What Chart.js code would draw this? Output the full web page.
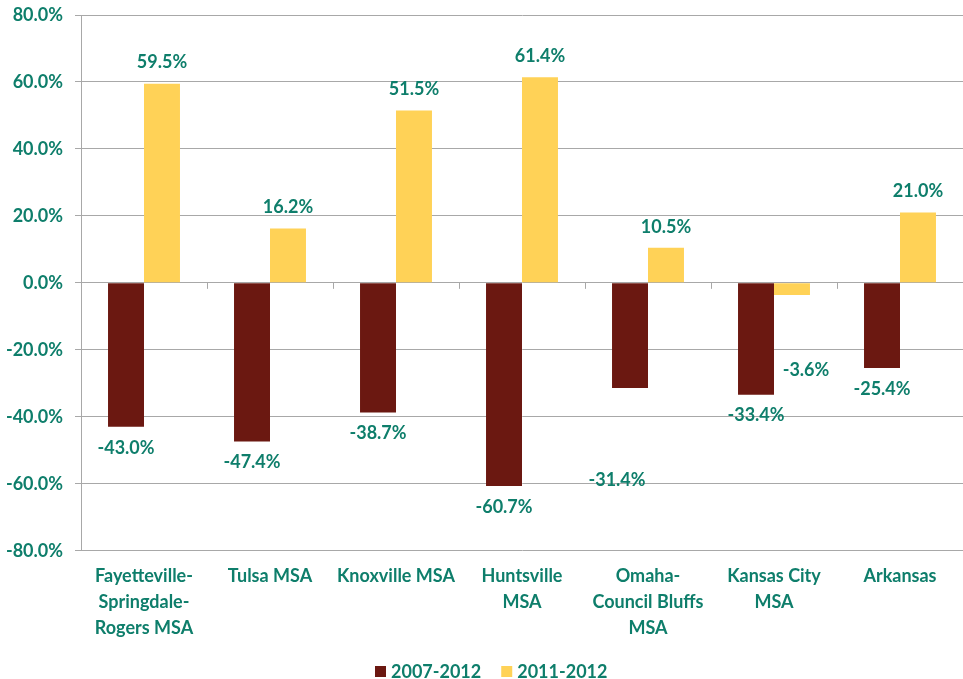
<!DOCTYPE html>
<html>
<head>
<meta charset="utf-8">
<script src="https://cdn.jsdelivr.net/npm/chart.js@4/dist/chart.umd.min.js"></script>
<style>
html,body{margin:0;padding:0;background:#fff;}
#wrap{width:963px;height:679px;position:relative;}
</style>
</head>
<body>
<div id="wrap"><canvas id="c" width="963" height="679"></canvas></div>
<script>
const categories = [
  ["Fayetteville-","Springdale-","Rogers MSA"],
  ["Tulsa MSA"],
  ["Knoxville MSA"],
  ["Huntsville","MSA"],
  ["Omaha-","Council Bluffs","MSA"],
  ["Kansas City","MSA"],
  ["Arkansas"]
];
const series2007 = [-43.0, -47.4, -38.7, -60.7, -31.4, -33.4, -25.4];
const series2011 = [59.5, 16.2, 51.5, 61.4, 10.5, -3.6, 21.0];
const seriesNames = ["2007-2012", "2011-2012"];
const yTicks = [-80, -60, -40, -20, 0, 20, 40, 60, 80];

const TEAL = '#0E7E6B';
const DARK = '#6B1811';
const YELLOW = '#FFD257';
const GRID = '#A8A8A8';
const FONT = 'Lato, "Open Sans", sans-serif';

// manual label nudges (dataset-index) -> [dx, dy]
const labelNudge = { '0-4': [-13, 71], '1-5': [14, 54] };

const labelPlugin = {
  id: 'barLabels',
  afterDatasetsDraw(chart) {
    const ctx = chart.ctx;
    ctx.save();
    ctx.font = 'bold 18px ' + FONT;
    ctx.fillStyle = TEAL;
    ctx.textAlign = 'center';
    ctx.textBaseline = 'middle';
    chart.data.datasets.forEach((ds, di) => {
      const meta = chart.getDatasetMeta(di);
      meta.data.forEach((bar, i) => {
        const v = ds.data[i];
        let x = bar.x;
        let y = v >= 0 ? bar.y - 21 : bar.y + 21;
        const n = labelNudge[di + '-' + i];
        if (n) { x += n[0]; y += n[1]; }
        ctx.fillText(v.toFixed(1) + '%', x, y);
      });
    });
    ctx.restore();
  }
};

const axisPlugin = {
  id: 'zeroTicks',
  afterDatasetsDraw(chart) {
    const ctx = chart.ctx;
    const xs = chart.scales.x, ys = chart.scales.y;
    const y0 = ys.getPixelForValue(0);
    ctx.save();
    ctx.strokeStyle = GRID;
    ctx.lineWidth = 1;
    const n = categories.length;
    for (let i = 1; i < n; i++) {
      const x = Math.round((xs.getPixelForValue(i - 1) + xs.getPixelForValue(i)) / 2) + 0.5;
      ctx.beginPath();
      ctx.moveTo(x, y0);
      ctx.lineTo(x, y0 + 6);
      ctx.stroke();
    }
    ctx.restore();
  }
};

const legendPlugin = {
  id: 'customLegend',
  afterDraw(chart) {
    const ctx = chart.ctx;
    ctx.save();
    ctx.font = 'bold 18px ' + FONT;
    ctx.textBaseline = 'middle';
    ctx.textAlign = 'left';
    const box = 11, gapText = 5, gapItem = 20;
    const items = chart.data.datasets.map(ds => ({ text: ds.label, color: ds.backgroundColor, w: ctx.measureText(ds.label).width }));
    let total = 0;
    items.forEach((it, i) => { total += box + gapText + it.w + (i ? gapItem : 0); });
    const cy = chart.height - 8;
    let x = Math.round(chart.width / 2 + 10 - total / 2);
    items.forEach((it, i) => {
      if (i) x += gapItem;
      ctx.fillStyle = it.color;
      ctx.fillRect(x, cy - 5, box, box);
      x += box + gapText;
      ctx.fillStyle = TEAL;
      ctx.fillText(it.text, x, cy + 1);
      x += it.w;
    });
    ctx.restore();
  }
};

new Chart(document.getElementById('c'), {
  type: 'bar',
  data: {
    labels: categories,
    datasets: [
      { label: seriesNames[0], data: series2007, backgroundColor: DARK, borderWidth: 0 },
      { label: seriesNames[1], data: series2011, backgroundColor: YELLOW, borderWidth: 0 }
    ]
  },
  options: {
    responsive: false,
    animation: false,
    layout: { padding: { top: 15, right: 0, left: 0, bottom: 26 } },
    datasets: { bar: { categoryPercentage: 0.571, barPercentage: 1.0 } },
    scales: {
      x: {
        grid: { display: false, drawTicks: false },
        border: { display: false },
        ticks: {
          color: TEAL,
          font: { family: FONT, size: 18, weight: 'bold', lineHeight: 1.45 },
          padding: 12,
          maxRotation: 0,
          autoSkip: false
        }
      },
      y: {
        min: -80, max: 80,
        afterBuildTicks(axis) { axis.ticks = yTicks.map(v => ({ value: v })); },
        afterFit(axis) { axis.width = 81; axis.paddingTop = 0; axis.paddingBottom = 0; },
        grid: { color: GRID, tickLength: 6, tickColor: GRID },
        border: { display: true, color: GRID },
        ticks: {
          color: TEAL,
          font: { family: FONT, size: 18, weight: 'bold' },
          padding: 12,
          callback: v => v.toFixed(1) + '%'
        }
      }
    },
    plugins: {
      legend: { display: false },
      tooltip: { enabled: false }
    }
  },
  plugins: [labelPlugin, axisPlugin, legendPlugin]
});
</script>
</body>
</html>
